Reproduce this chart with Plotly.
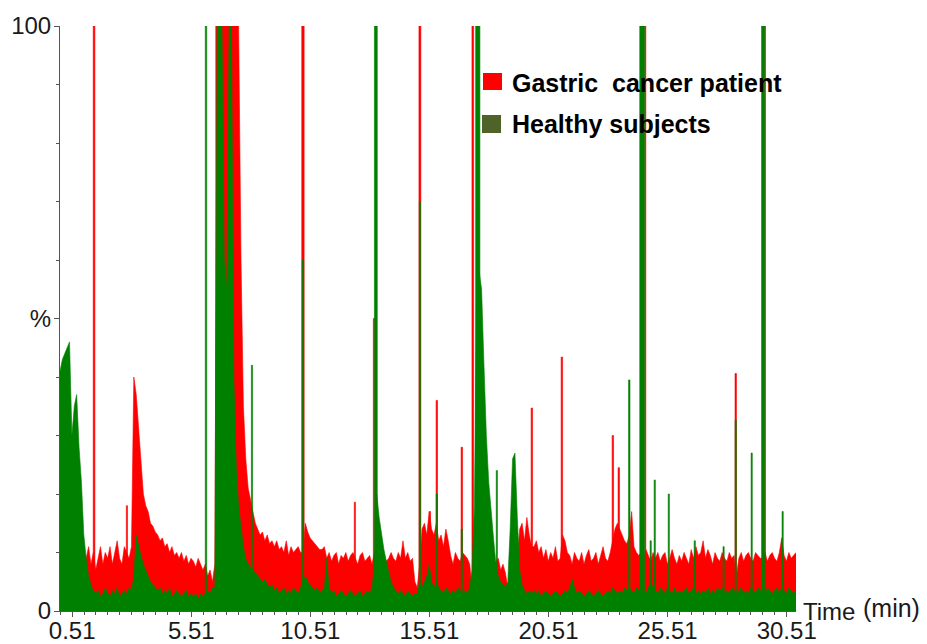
import numpy as np
import plotly.graph_objects as go

# Sampled signal level every 0.1 min, one row per minute (0.0 ... 30.9 min), in % of base peak
gastric_level = [
    8, 9, 8, 10, 9, 8, 10, 9, 11, 8,
    10, 9, 11, 8, 10, 7, 9, 11, 8, 10,
    9, 11, 8, 10, 12, 9, 8, 11, 10, 9,
    11, 40, 37, 31, 25, 20, 18, 17, 15, 14.5,
    13.5, 13, 12, 12.5, 11, 11.5, 10, 11, 9.5, 10,
    9, 10, 8.5, 9.5, 8, 9, 8.5, 7.5, 9, 8,
    7, 8, 6, 7, 5, 8, 100, 100, 100, 100,
    100, 100, 100, 100, 100, 100, 60, 35, 26, 21,
    19, 17, 15, 14, 13, 13.5, 12, 13, 11.5, 12,
    11, 12, 10.5, 11, 10, 12, 9.5, 11, 10, 10.5,
    11, 10, 10, 15, 13.5, 12.5, 12, 11.5, 11, 10.5,
    10.5, 11, 9, 10, 8.5, 9.5, 10, 8, 9.5, 9,
    10, 8.5, 9.5, 10, 9, 8, 9.5, 10, 8.5, 9,
    9.5, 8, 10, 10, 9, 10, 9.5, 8.5, 9, 10,
    9, 8.5, 10, 9, 12, 9, 10, 8.5, 9, 5,
    4, 8, 14, 15, 13, 17, 14, 13, 15, 12,
    13, 11, 14, 12, 9.5, 8, 10, 9, 8.5, 10,
    9.5, 9, 8, 4, 10, 9, 9, 9, 9, 8,
    8, 9, 7.5, 8.5, 9, 7, 8, 6.5, 4, 6,
    7, 8, 9, 14, 15, 12, 16, 13, 11, 11,
    12, 10, 11, 9, 10.5, 8.5, 10, 9, 11, 8.5,
    9, 13, 12, 10, 9.5, 8, 10, 9, 8.5, 10,
    8, 9.5, 10.5, 8.5, 9, 10, 8, 9.5, 11, 9,
    8.5, 10, 12, 14, 15, 14, 13, 12, 11.5, 13,
    17, 11, 10, 9.5, 10, 9, 10.5, 9.5, 8.5, 10,
    9, 10, 8.5, 9.5, 10, 8, 9, 10.5, 9, 8,
    9.5, 8.5, 10, 9, 8, 10.5, 9, 11, 9.5, 10,
    12, 9, 10.5, 9.5, 8, 10, 9, 8.5, 10, 9,
    8.5, 10, 9, 9.5, 6, 9, 10, 8.5, 9.5, 10,
    9, 8.5, 10, 9.5, 9, 9, 10, 8.5, 9.5, 10,
    9, 8.5, 10, 12.5, 9.5, 8.5, 10, 9, 9.5, 10,
]

healthy_level = [
    41, 43, 44, 45, 46, 30, 35, 37, 28, 22,
    13, 9, 6, 4.5, 3.5, 3, 3.5, 2.5, 3, 4,
    3, 2.5, 3.5, 3, 4, 2.5, 3, 3.5, 3, 4,
    3.5, 6, 13, 11, 9.5, 8, 7, 6, 5, 4.5,
    4, 3.5, 4, 3, 3.5, 3, 4, 2.5, 3, 3.5,
    3, 2.5, 3, 3.5, 2.5, 3, 2.5, 3, 2, 3,
    2.5, 3, 3.5, 3, 4, 4, 100, 100, 100, 60,
    55, 100, 100, 40, 25, 18, 14, 11, 9, 8,
    7.5, 7, 6.5, 6, 5.5, 5, 5.5, 4.5, 4, 4.5,
    3.5, 4, 3, 3.5, 4, 3, 3.5, 3, 4, 3.5,
    3, 4, 5, 6, 5, 4.5, 4, 3.5, 4, 3,
    3.5, 4, 9, 4, 3, 3.5, 2.5, 3, 3.5, 3,
    2.5, 3, 3.5, 3, 2.5, 3, 3.5, 2.5, 3, 3.5,
    3, 4, 8, 20, 16, 13, 10.5, 8.5, 6.5, 5,
    4, 3.5, 3, 3.5, 3, 2.5, 3.5, 3, 2.5, 3,
    3, 5, 4, 5, 6, 8, 5, 4, 5, 4,
    3.5, 3, 4, 3.5, 3, 3.5, 3, 4, 3.5, 3,
    3.5, 3, 4, 7, 18, 60, 58, 55, 42, 30,
    22, 16.5, 12.5, 8, 6, 5, 4.5, 4, 5, 14,
    26, 27, 16, 7, 4.5, 3.5, 3, 3.5, 3, 3.5,
    3, 3.5, 2.5, 3, 3.5, 3, 2.5, 3, 3.5, 3,
    2.5, 3, 3.5, 3, 4, 5.5, 4, 3, 3.5, 3,
    2.5, 3, 3.5, 3, 2.5, 3, 3.5, 3, 2.5, 3,
    3.5, 3, 4, 3.5, 3, 3.5, 3, 4, 3.5, 4,
    3.5, 3, 4, 3.5, 4, 3.5, 3, 4, 5, 4,
    3.5, 3, 4, 3.5, 3, 4, 3.5, 3, 4, 3,
    3.5, 3, 3.5, 4, 3, 3.5, 4, 3, 3.5, 3,
    3.5, 3, 4, 3, 3.5, 3, 4, 3.5, 4, 3,
    3.5, 3, 4, 3.5, 3, 3.5, 4, 3, 3.5, 3,
    4, 3.5, 3, 4, 3.5, 3.5, 3, 4, 3.5, 3,
    3.5, 4, 3, 4, 3.5, 3, 4, 3.5, 3, 3.5,
]

# Narrow peaks: retention time (min), height (%), peak width (min)
gastric_peak_t = [1.43, 2.81, 6.57, 10.20, 12.38, 13.18, 15.11, 15.53, 15.82, 16.87,
                  17.33, 19.81, 21.07, 23.21, 23.46, 24.57, 28.37, 29.60]
gastric_peak_h = [100, 18, 100, 100, 18.6, 50, 100, 17, 36, 28,
                  100, 34.7, 43.4, 30, 24.5, 100, 40.6, 100]
gastric_peak_w = [0.07, 0.05, 0.06, 0.10, 0.05, 0.05, 0.08, 0.05, 0.06, 0.06,
                  0.07, 0.06, 0.06, 0.06, 0.06, 0.05, 0.06, 0.04]

healthy_peak_t = [6.13, 8.06, 10.20, 13.26, 15.11, 15.82, 16.87, 17.54, 18.34, 23.90,
                  24.44, 24.80, 24.97, 25.56, 26.65, 27.86, 28.37, 29.04, 29.52, 30.34]
healthy_peak_h = [100, 42, 60, 100, 70, 20, 14, 100, 24, 39.5,
                  100, 12, 22.4, 20, 12, 11, 32.6, 27, 100, 17]
healthy_peak_w = [0.06, 0.05, 0.06, 0.12, 0.05, 0.05, 0.05, 0.18, 0.05, 0.06,
                  0.20, 0.05, 0.05, 0.05, 0.05, 0.05, 0.05, 0.05, 0.13, 0.05]

x_tick_vals = [0.51, 5.51, 10.51, 15.51, 20.51, 25.51, 30.51]
x_tick_text = ["0.51", "5.51", "10.51", "15.51", "20.51", "25.51", "30.51"]
y_tick_vals = [0, 50, 100]
y_tick_text = ["0", "%", "100"]

series_names = ["Gastric\u00a0 cancer patient", "Healthy subjects"]

RED = "#ff0000"
GREEN = "#008000"
OLIVE = "#4f6228"
FONT = "Liberation Sans, Arial, sans-serif"

sample_time = np.round(np.arange(len(gastric_level)) * 0.1, 2)


def peak_outline(times, heights, widths):
    xs, ys = [], []
    for t, h, w in zip(times, heights, widths):
        xs += [t - w / 2, t - w / 2, t + w / 2, t + w / 2, None]
        ys += [0, h, h, 0, None]
    return xs, ys


fig = go.Figure()

# gastric cancer trace sits underneath the healthy trace
fig.add_trace(go.Scatter(x=sample_time, y=gastric_level, mode="lines",
                         line=dict(color=RED, width=0.6), fill="tozeroy",
                         fillcolor=RED, showlegend=False, hoverinfo="skip"))
gx, gy = peak_outline(gastric_peak_t, gastric_peak_h, gastric_peak_w)
fig.add_trace(go.Scatter(x=gx, y=gy, mode="lines", line=dict(color=RED, width=0.6),
                         fill="toself", fillcolor=RED, showlegend=False, hoverinfo="skip"))

fig.add_trace(go.Scatter(x=sample_time, y=healthy_level, mode="lines",
                         line=dict(color=GREEN, width=0.6), fill="tozeroy",
                         fillcolor=GREEN, showlegend=False, hoverinfo="skip"))
hx, hy = peak_outline(healthy_peak_t, healthy_peak_h, healthy_peak_w)
fig.add_trace(go.Scatter(x=hx, y=hy, mode="lines", line=dict(color=GREEN, width=0.6),
                         fill="toself", fillcolor=GREEN, showlegend=False, hoverinfo="skip"))

L, R, T, B = 60, 131, 26, 33
W, H = 927, 644
pw, ph = W - L - R, H - T - B


def px(x):
    return (x - L) / pw


def py(y):
    return (H - B - y) / ph


# legend keys and labels
for (y0, y1, x0, x1, col) in [(73, 90, 483, 502, RED), (115, 133, 482, 501, OLIVE)]:
    fig.add_shape(type="rect", xref="paper", yref="paper",
                  x0=px(x0), x1=px(x1), y0=py(y1), y1=py(y0),
                  fillcolor=col, line=dict(width=0))
for name, yc in zip(series_names, [83, 124]):
    fig.add_annotation(xref="paper", yref="paper", x=px(510), y=py(yc),
                       xanchor="left", yanchor="middle", showarrow=False,
                       text="<b>" + name + "</b>",
                       font=dict(family=FONT, size=25, color="#000000"))

# axis title at the end of the time axis
fig.add_annotation(xref="paper", yref="paper", x=px(801), y=py(611),
                   xanchor="left", yanchor="middle", showarrow=False, text="Time",
                   font=dict(family=FONT, size=24, color="#1a1a1a"))
fig.add_annotation(xref="paper", yref="paper", x=px(861), y=py(608),
                   xanchor="left", yanchor="middle", showarrow=False, text="(min)",
                   font=dict(family=FONT, size=25, color="#1a1a1a"))

fig.update_layout(
    width=W, height=H,
    margin=dict(l=L, r=R, t=T, b=B, pad=0, autoexpand=False),
    paper_bgcolor="white", plot_bgcolor="white",
    showlegend=False,
    font=dict(family=FONT, size=24, color="#1a1a1a"),
    xaxis=dict(range=[0, 30.9], showgrid=False, zeroline=False, automargin=False,
               showline=True, linecolor="#555555", linewidth=1,
               tickmode="array", tickvals=x_tick_vals, ticktext=x_tick_text,
               ticks="outside", ticklen=5, tickcolor="#555555",
               ticklabelstandoff=-7,
               tickfont=dict(family=FONT, size=24, color="#1a1a1a"),
               minor=dict(tickmode="linear", tick0=0.01, dtick=0.5,
                          ticks="outside", ticklen=3, tickcolor="#555555")),
    yaxis=dict(range=[0, 100], showgrid=False, zeroline=False, automargin=False,
               showline=True, linecolor="#555555", linewidth=1,
               tickmode="array", tickvals=y_tick_vals, ticktext=y_tick_text,
               ticks="outside", ticklen=5, tickcolor="#555555",
               ticklabelstandoff=-2,
               tickfont=dict(family=FONT, size=24, color="#1a1a1a"),
               minor=dict(tickmode="linear", tick0=0, dtick=10,
                          ticks="outside", ticklen=3, tickcolor="#555555")),
)

fig.write_html("out.html")
